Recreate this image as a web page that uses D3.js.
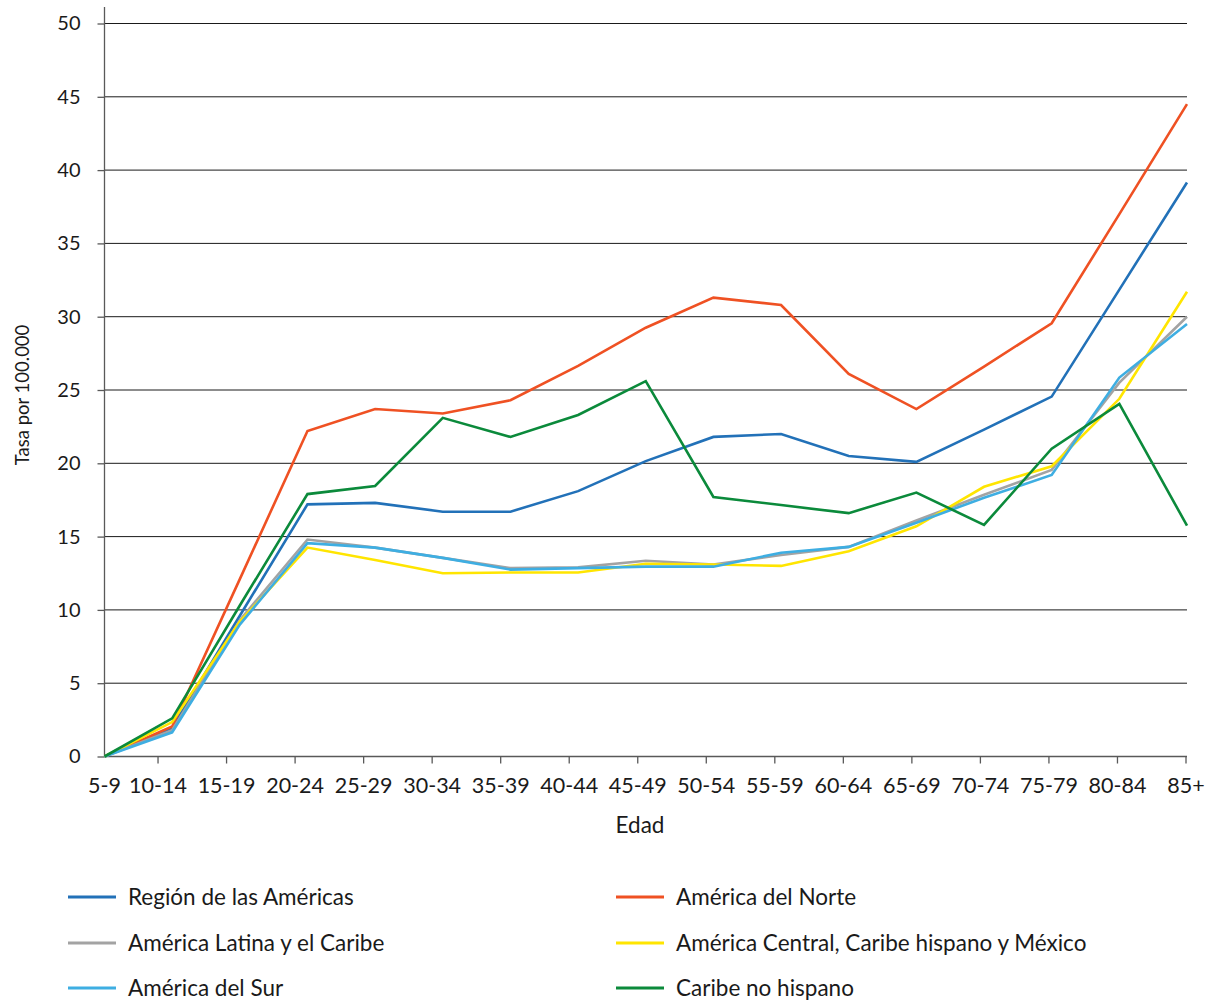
<!DOCTYPE html>
<html>
<head>
<meta charset="utf-8">
<script src="https://cdn.jsdelivr.net/npm/d3@7"></script>
<style>
  html, body { margin: 0; padding: 0; background: #fff; }
  svg { display: block; font-family: Lato, "Open Sans", sans-serif; }
</style>
</head>
<body>
<svg id="chart" width="1207" height="1003"></svg>
<script>
// ---- data ----
const categories = ["5-9","10-14","15-19","20-24","25-29","30-34","35-39","40-44","45-49","50-54","55-59","60-64","65-69","70-74","75-79","80-84","85+"];
const seriesNames = ["Región de las Américas","América del Norte","América Latina y el Caribe","América Central, Caribe hispano y México","América del Sur","Caribe no hispano"];
const regionAmericas   = [0, 1.95, 9.6, 17.2, 17.3, 16.7, 16.7, 18.1, 20.15, 21.8, 22.0, 20.5, 20.1, 22.3, 24.55, 31.85, 39.15];
const americaNorte     = [0, 2.05, 12.1, 22.2, 23.7, 23.4, 24.3, 26.65, 29.25, 31.3, 30.8, 26.1, 23.7, 26.6, 29.55, 37.0, 44.5];
const americaLatina    = [0, 1.8, 9.3, 14.8, 14.25, 13.55, 12.85, 12.9, 13.35, 13.1, 13.75, 14.3, 16.1, 17.85, 19.55, 25.5, 30.0];
const americaCentral   = [0, 2.35, 9.2, 14.25, 13.4, 12.5, 12.55, 12.55, 13.15, 13.1, 13.0, 14.0, 15.7, 18.4, 19.8, 24.4, 31.7];
const americaSur       = [0, 1.65, 9.0, 14.55, 14.25, 13.55, 12.75, 12.85, 12.95, 12.95, 13.9, 14.3, 15.95, 17.65, 19.2, 25.85, 29.5];
const caribeNoHispano  = [0, 2.6, 10.3, 17.9, 18.45, 23.1, 21.8, 23.3, 25.6, 17.7, 17.15, 16.6, 18.0, 15.8, 21.0, 24.05, 15.75];
const yTicks = [0, 5, 10, 15, 20, 25, 30, 35, 40, 45, 50];
const colors = ["#2271b8", "#ef5123", "#a3a3a3", "#ffe500", "#3eaee2", "#0b8a3b"];

const allSeries = [regionAmericas, americaNorte, americaLatina, americaCentral, americaSur, caribeNoHispano];

// ---- layout ----
const svg = d3.select("#chart");
const mLeft = 104.5, mRight = 1187, mTop = 23.5, mBottom = 756.5;

const x = d3.scalePoint().domain(categories).range([mLeft, mRight]);
// axis label positions (labels are spread slightly differently than the points)
const xLab = d3.scalePoint().domain(categories).range([89.5, 1186]);
const y = d3.scaleLinear().domain([0, 50]).range([mBottom, mTop]);

// gridlines
svg.append("g")
  .selectAll("line")
  .data(yTicks.filter(d => d > 0))
  .join("line")
  .attr("x1", mLeft).attr("x2", mRight)
  .attr("y1", d => y(d)).attr("y2", d => y(d))
  .attr("stroke", "#1a1a1a").attr("stroke-width", 1);

// y axis
const yAxis = d3.axisLeft(y).tickValues(yTicks).tickSize(7).tickPadding(17).tickFormat(d3.format("d"));
const gy = svg.append("g").attr("transform", `translate(${mLeft},0)`).call(yAxis);
gy.select(".domain").remove();
gy.append("line").attr("x1", 0).attr("x2", 0).attr("y1", 7).attr("y2", mBottom)
  .attr("stroke", "#595959").attr("stroke-width", 1.3);
gy.selectAll(".tick line").attr("stroke", "#595959").attr("stroke-width", 1.3);
gy.selectAll(".tick text").attr("fill", "#1a1a1a").style("font-size", "20px").style("font-family", "Lato");

// x axis
const gx = svg.append("g").attr("transform", `translate(0,${mBottom})`);
gx.append("line").attr("x1", mLeft).attr("x2", mRight).attr("y1", 0).attr("y2", 0)
  .attr("stroke", "#595959").attr("stroke-width", 1.3);
gx.selectAll(".xt").data(categories.slice(1)).join("line")
  .attr("class", "xt")
  .attr("x1", d => xLab(d)).attr("x2", d => xLab(d))
  .attr("y1", 0).attr("y2", 7)
  .attr("stroke", "#595959").attr("stroke-width", 1.3);
gx.selectAll(".xl").data(categories).join("text")
  .attr("class", "xl")
  .attr("x", (d, i) => i === 0 ? x(d) : xLab(d))
  .attr("y", 36.5)
  .attr("text-anchor", "middle")
  .attr("fill", "#1a1a1a")
  .style("font-size", "21.5px")
  .text(d => d);

// axis titles
svg.append("text")
  .attr("x", 640).attr("y", 833)
  .attr("text-anchor", "middle")
  .attr("fill", "#1a1a1a")
  .style("font-size", "22.5px")
  .text("Edad");
svg.append("text")
  .attr("transform", "translate(29,395) rotate(-90)")
  .attr("text-anchor", "middle")
  .attr("fill", "#1a1a1a")
  .style("font-size", "18.5px")
  .text("Tasa por 100.000");

// lines
const line = d3.line().x((d, i) => x(categories[i])).y(d => y(d));
svg.append("g")
  .selectAll("path")
  .data(allSeries)
  .join("path")
  .attr("d", d => line(d))
  .attr("fill", "none")
  .attr("stroke", (d, i) => colors[i])
  .attr("stroke-width", 2.6)
  .attr("stroke-linejoin", "miter");

// legend
const legendPos = [
  [68, 897], [616, 897],
  [68, 943], [616, 943],
  [68, 988], [616, 988]
];
const lg = svg.append("g")
  .selectAll("g")
  .data(seriesNames)
  .join("g")
  .attr("transform", (d, i) => `translate(${legendPos[i][0]},${legendPos[i][1]})`);
lg.append("line")
  .attr("x1", 0).attr("x2", 48).attr("y1", 0).attr("y2", 0)
  .attr("stroke", (d, i) => colors[i]).attr("stroke-width", 3);
lg.append("text")
  .attr("x", 60).attr("y", 0).attr("dy", "0.35em")
  .attr("fill", "#1a1a1a")
  .style("font-size", "22.5px")
  .text(d => d);
</script>
</body>
</html>
